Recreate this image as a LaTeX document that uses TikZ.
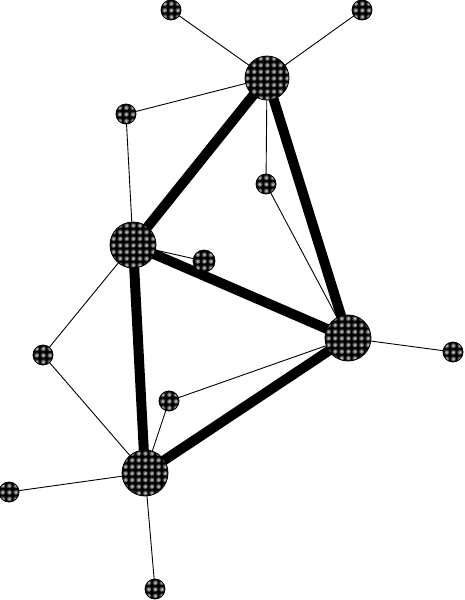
\documentclass[tikz,border=0pt]{standalone}
\usetikzlibrary{backgrounds}
\tikzset{
  dotted fill/.style={
    path picture={
      \foreach \i in {-4,...,4}{
        \foreach \j in {-4,...,4}{
          \shade[inner color=white!85!black, outer color=black]
            ([xshift=\i*6.6pt,yshift=\j*6.6pt]path picture bounding box.center) circle (3.1pt);
        }
      }
    }
  },
  hub/.style={circle, draw=black, line width=0.8pt, fill=black, inner sep=0pt, minimum size=46pt, dotted fill},
  leaf/.style={circle, draw=black, line width=0.8pt, fill=black, inner sep=0pt, minimum size=20pt, dotted fill},
  thick edge/.style={line width=10pt, black},
  thin edge/.style={line width=0.9pt, black},
}
\begin{document}
\begin{tikzpicture}[x=1pt,y=-1pt]
\useasboundingbox (0,0) rectangle (465,600);
\node[hub, minimum size=44pt] (A) at (267,78) {};
\node[hub] (B) at (133,245) {};
\node[hub] (C) at (348,338) {};
\node[hub] (D) at (145,473) {};
\node[leaf] (s1) at (171,10) {};
\node[leaf] (s2) at (362,10) {};
\node[leaf] (s3) at (126,114) {};
\node[leaf] (s4) at (266,184) {};
\node[leaf, minimum size=22pt] (s5) at (204,261) {};
\node[leaf] (s6) at (43,355) {};
\node[leaf] (s7) at (453,352) {};
\node[leaf] (s8) at (169,401) {};
\node[leaf] (s9) at (9,492) {};
\node[leaf] (s10) at (155,589) {};
\begin{scope}[on background layer]
\draw[thin edge] (A.center) -- (s1.center);
\draw[thin edge] (A.center) -- (s2.center);
\draw[thin edge] (A.center) -- (s3.center);
\draw[thin edge] (A.center) -- (s4.center);
\draw[thin edge] (s4.center) -- (C.center);
\draw[thin edge] (s3.center) -- (B.center);
\draw[thin edge] (B.center) -- (s5.center);
\draw[thin edge] (B.center) -- (s6.center);
\draw[thin edge] (s6.center) -- (D.center);
\draw[thin edge] (s8.center) -- (C.center);
\draw[thin edge] (s8.center) -- (D.center);
\draw[thin edge] (D.center) -- (s9.center);
\draw[thin edge] (D.center) -- (s10.center);
\draw[thin edge] (C.center) -- (s7.center);
\draw[thick edge] (A.center) -- (B.center);
\draw[thick edge] (A.center) -- (C.center);
\draw[thick edge] (B.center) -- (C.center);
\draw[thick edge] (B.center) -- (D.center);
\draw[thick edge] (C.center) -- (D.center);
\end{scope}
\end{tikzpicture}
\end{document}
